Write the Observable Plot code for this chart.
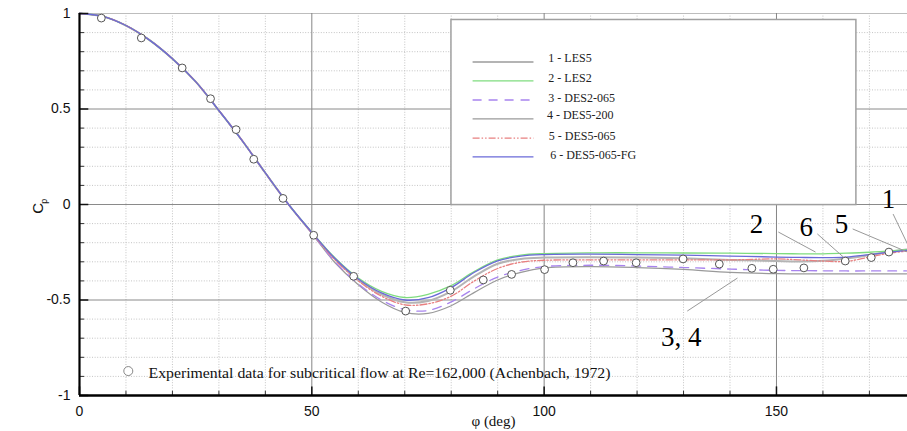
<!DOCTYPE html>
<html><head><meta charset="utf-8">
<script src="https://cdn.jsdelivr.net/npm/d3@7"></script>
<script src="https://cdn.jsdelivr.net/npm/@observablehq/plot@0.6"></script>
<style>html,body{margin:0;padding:0;background:#fff} svg{display:block}</style>
</head><body><div id="chart"></div>
<script>
// ---------- data ----------
const phi = [0,5,10,15,20,25,30,35,40,45,50,55,60,65,70,75,80,85,90,95,100,110,120,130,140,150,155,160,165,170,175,178];
const base = [1.0,0.985,0.937,0.862,0.763,0.643,0.492,0.335,0.165,0.0];
const les5     = base.concat([-0.148,-0.285,-0.395,-0.47,-0.512,-0.505,-0.455,-0.375,-0.31,-0.285,-0.278,-0.276,-0.278,-0.282,-0.29,-0.296,-0.298,-0.295,-0.283,-0.265,-0.245,-0.235]);
const les2     = base.concat([-0.145,-0.28,-0.385,-0.455,-0.487,-0.47,-0.425,-0.35,-0.29,-0.265,-0.257,-0.253,-0.253,-0.254,-0.255,-0.257,-0.258,-0.258,-0.255,-0.25,-0.242,-0.236]);
const des2065  = base.concat([-0.15,-0.30,-0.415,-0.50,-0.55,-0.555,-0.51,-0.44,-0.38,-0.345,-0.325,-0.318,-0.322,-0.33,-0.338,-0.345,-0.346,-0.347,-0.348,-0.348,-0.348,-0.348]);
const des5200  = base.concat([-0.152,-0.305,-0.42,-0.51,-0.565,-0.57,-0.53,-0.46,-0.395,-0.355,-0.332,-0.325,-0.33,-0.34,-0.355,-0.362,-0.363,-0.363,-0.363,-0.363,-0.363,-0.363]);
const des5065  = base.concat([-0.148,-0.29,-0.40,-0.48,-0.525,-0.52,-0.48,-0.40,-0.335,-0.302,-0.292,-0.29,-0.29,-0.29,-0.29,-0.285,-0.29,-0.296,-0.298,-0.275,-0.252,-0.245]);
const des5065fg= base.concat([-0.146,-0.283,-0.39,-0.463,-0.5,-0.488,-0.435,-0.355,-0.295,-0.27,-0.262,-0.26,-0.262,-0.265,-0.27,-0.275,-0.277,-0.278,-0.275,-0.262,-0.248,-0.24]);

const expPhi = [4.7,13.3,22.1,28.2,33.7,37.5,43.8,50.4,59.0,70.2,79.8,86.9,93.0,100.1,106.2,112.8,119.8,129.9,137.7,144.7,149.3,155.9,164.8,170.4,174.2];
const expCp  = [0.976,0.872,0.715,0.554,0.392,0.237,0.032,-0.161,-0.376,-0.558,-0.449,-0.395,-0.366,-0.341,-0.305,-0.296,-0.305,-0.285,-0.312,-0.334,-0.339,-0.332,-0.296,-0.278,-0.249];

const seriesNames = ["1 - LES5","2 - LES2","3 - DES2-065","4 - DES5-200","5 - DES5-065","6 - DES5-065-FG"];
const seriesValues = [les5, les2, des2065, des5200, des5065, des5065fg];

const xMajor = [0,50,100,150];
const yMajor = [-1,-0.5,0,0.5,1];
const xMinor = d3.range(10,180,10).filter(v => v % 50 !== 0);
const yMinor = d3.range(-9,10).map(v => v/10).filter(v => Math.abs(v*2 - Math.round(v*2)) > 1e-9);
const xTickLabels = ["0","50","100","150"];
const yTickLabels = ["-1","-0.5","0","0.5","1"];

const annLabels = ["1","2","6","5","3, 4"];
const annX = [174.1,145.7,156.4,164.0,129.5];
const annY = [0.029,-0.102,-0.118,-0.102,-0.694];
const leadX1 = [175.1,150.4,158.8,166.4,130.8], leadY1 = [-0.05,-0.144,-0.154,-0.128,-0.558];
const leadX2 = [178.2,158.4,164.4,178.2,141.6], leadY2 = [-0.207,-0.249,-0.275,-0.249,-0.385];

const captionText = "Experimental data for subcritical flow at Re=162,000 (Achenbach, 1972)";

// ---------- styles ----------
const styles = [
  {stroke:"#b4b4b4", strokeWidth:2},
  {stroke:"#7fdc7f", strokeWidth:1.3},
  {stroke:"#a884ee", strokeWidth:1.3, strokeDasharray:"9,7"},
  {stroke:"#9a9a9a", strokeWidth:1.2},
  {stroke:"#e88080", strokeWidth:1.3, strokeDasharray:"7,2,1.5,2,1.5,2"},
  {stroke:"#6a6ad8", strokeWidth:1.3}
];
const drawOrder = [3,0,2,1,4,5];

const rows = seriesValues.map((vals,i) => phi.map((p,j) => ({phi:p, cp:vals[j], s:i})));
const exp = expPhi.map((p,i) => ({phi:p, cp:expCp[i]}));

// legend (inside plot, data units)
const legendBox = [{x1:80.05, x2:167.2, y1:-0.003, y2:0.966}];
const legY = [0.746,0.647,0.547,0.448,0.348,0.249];
const legTextY = [0.767,0.664,0.559,0.467,0.359,0.258];
const legTextX = [100.9,100.9,100.9,100.6,101.0,101.3];

const serif = "Liberation Serif, Times New Roman, serif";
const sans = "Liberation Sans, Arial, Helvetica, sans-serif";

const marks = [
  Plot.ruleX(xMinor, {stroke:"#c4c4c4", strokeDasharray:"1,1.6"}),
  Plot.ruleY(yMinor, {stroke:"#c4c4c4", strokeDasharray:"1,1.6"}),
  Plot.ruleY([1], {stroke:"#bdbdbd", strokeWidth:1}),
  Plot.ruleX([50,100,150], {stroke:"#858585", strokeWidth:1}),
  Plot.ruleY([-0.5,0,0.5], {stroke:"#8a8a8a", strokeWidth:1}),
  Plot.rect(legendBox, {x1:"x1", x2:"x2", y1:"y1", y2:"y2", fill:"white", stroke:"#a0a0a0", strokeWidth:1.5}),
];
styles.forEach((st,i) => {
  marks.push(Plot.link([i], {x1:84.6, x2:97.7, y1:() => legY[i], y2:() => legY[i], ...st}));
  marks.push(Plot.text([seriesNames[i]], {x:legTextX[i], y:legTextY[i], text:d=>d, textAnchor:"start", fontFamily:serif, fontSize:12, fill:"#222"}));
});
drawOrder.forEach(i => {
  marks.push(Plot.line(rows[i], {x:"phi", y:"cp", curve:"catmull-rom", ...styles[i]}));
});
marks.push(
  Plot.dot(exp, {x:"phi", y:"cp", r:3.9, fill:"white", stroke:"#555", strokeWidth:1}),
  Plot.link(annLabels.map((_,i)=>i), {x1:i=>leadX1[i], y1:i=>leadY1[i], x2:i=>leadX2[i], y2:i=>leadY2[i], stroke:"#999", strokeWidth:1}),
  Plot.text(annLabels.map((_,i)=>i), {x:i=>annX[i], y:i=>annY[i], text:i=>annLabels[i], fontFamily:serif, fontSize:27, fill:"#000", lineAnchor:"middle"}),
  // caption (bottom-left legend)
  Plot.dot([0], {x:10.5, y:-0.872, r:4.5, fill:"white", stroke:"#888", strokeWidth:1}),
  Plot.text([captionText], {x:14.85, y:-0.882, text:d=>d, textAnchor:"start", fontFamily:serif, fontSize:14.5, fill:"#111", className:"caption"}),
  // ticks
  Plot.ruleY(yMinor, {x1:0, x2:1.1, stroke:"#333", strokeWidth:1}),
  Plot.ruleY(yMajor, {x1:0, x2:2.0, stroke:"#111", strokeWidth:1.5}),
  Plot.ruleX(xMinor, {y1:-1, y2:-0.978, stroke:"#333", strokeWidth:1}),
  Plot.ruleX(xMajor, {y1:-1, y2:-0.955, stroke:"#111", strokeWidth:1.5}),
  // axis lines
  Plot.ruleX([0], {y1:-1, y2:1, stroke:"#000", strokeWidth:2.2}),
  Plot.ruleY([-1], {x1:0, x2:178.2, stroke:"#000", strokeWidth:2.5}),
  // tick labels
  Plot.text(xMajor, {x:d=>d, y:-1, text:(d,i)=>xTickLabels[i], dy:11, lineAnchor:"top", fontFamily:sans, fontSize:14, fill:"#111"}),
  Plot.text(yMajor, {x:0, y:d=>d, text:(d,i)=>yTickLabels[i], dx:-9, textAnchor:"end", fontFamily:sans, fontSize:14, fill:"#111"}),
  // axis titles
  Plot.text(["φ (deg)"], {x:89.1, y:-1, text:d=>d, dy:26, lineAnchor:"middle", fontFamily:serif, fontSize:15, fill:"#111"}),
  Plot.text(["C"], {x:0, y:-0.02, text:d=>d, dx:-41, rotate:-90, fontFamily:sans, fontSize:15, fill:"#111"}),
  Plot.text(["p"], {x:0, y:0.017, text:d=>d, dx:-35, rotate:-90, fontFamily:sans, fontSize:9, fill:"#111"})
);

const chart = Plot.plot({
  width: 907, height: 431,
  marginLeft: 79, marginRight: 0, marginTop: 13, marginBottom: 36,
  x: {domain:[0,178.2], axis:null},
  y: {domain:[-1,1], axis:null},
  style: {background:"white", overflow:"visible"},
  marks
});
document.getElementById("chart").appendChild(chart);
d3.select(chart).selectAll(".caption text").attr("textLength", 462).attr("lengthAdjust", "spacingAndGlyphs");
</script>
</body></html>
